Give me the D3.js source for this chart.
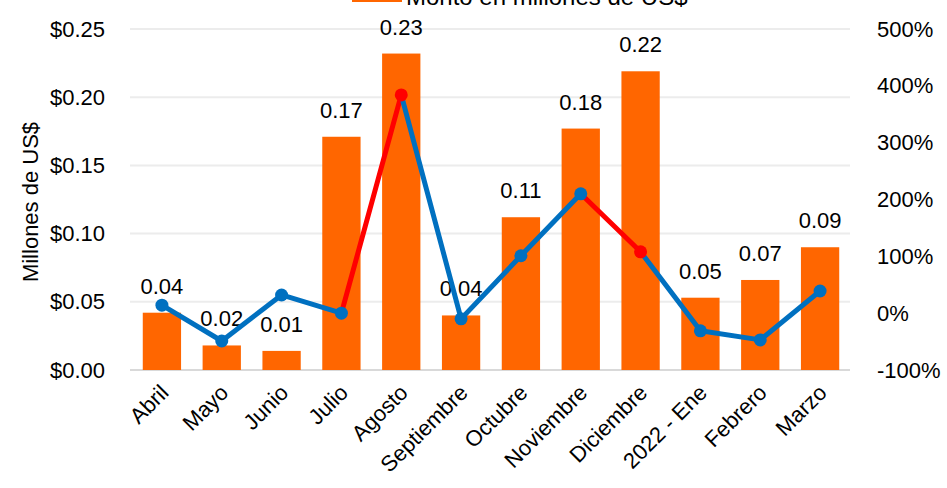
<!doctype html>
<html lang="es">
<head>
<meta charset="utf-8">
<title>Monto en millones de US$</title>
<script src="https://cdnjs.cloudflare.com/ajax/libs/d3/7.8.5/d3.min.js"></script>
<style>
  body { margin: 0; background: #fff; }
  svg { font-family: "Liberation Sans", Arial, sans-serif; display: block; }
</style>
</head>
<body>
<div id="chart"></div>
<script>
var meses = ["Abril", "Mayo", "Junio", "Julio", "Agosto", "Septiembre", "Octubre",
             "Noviembre", "Diciembre", "2022 - Ene", "Febrero", "Marzo"];
var monto = [0.042, 0.018, 0.014, 0.171, 0.232, 0.040, 0.112, 0.177, 0.219, 0.053, 0.066, 0.090];
var etiquetas = ["0.04", "0.02", "0.01", "0.17", "0.23", "0.04", "0.11", "0.18", "0.22", "0.05", "0.07", "0.09"];
var variacion = [14, -49, 32, 0, 384, -10, 101, 210, 108, -31, -47, 39];
// segmentos destacados en rojo (indice del punto final)
var rojos = [4, 8];
var ticksIzq = [0, 0.05, 0.10, 0.15, 0.20, 0.25];
var ticksDer = [-100, 0, 100, 200, 300, 400, 500];

var w = 947, h = 488;
var x0 = 132, x1 = 850, yTop = 29, yBot = 370;

var svg = d3.select("#chart").append("svg")
  .attr("width", w).attr("height", h);

var x = d3.scaleBand().domain(meses).range([x0, x1]).paddingInner(0.36).paddingOuter(0.18);
var y = d3.scaleLinear().domain([0, 0.25]).range([yBot, yTop]);
var y2 = d3.scaleLinear().domain([-100, 500]).range([yBot, yTop]);

// grid
svg.selectAll(".grid").data(ticksIzq).enter().append("line")
  .attr("x1", x0 - 2).attr("x2", x1)
  .attr("y1", function(d) { return y(d); }).attr("y2", function(d) { return y(d); })
  .attr("stroke", function(d) { return d == 0 ? "#d9d9d9" : "#ececec"; })
  .attr("stroke-width", 2);

// left axis
var ejeIzq = svg.append("g").attr("transform", "translate(" + (x0 - 2) + ",0)")
  .call(d3.axisLeft(y).tickValues(ticksIzq).tickSize(0).tickPadding(25)
    .tickFormat(function(d) { return "$" + d3.format(".2f")(d); }));
ejeIzq.select(".domain").remove();
ejeIzq.selectAll("text").attr("font-size", 22).attr("fill", "#000")
  .attr("font-family", "Liberation Sans, Arial, sans-serif");

// right axis
var ejeDer = svg.append("g").attr("transform", "translate(" + x1 + ",0)")
  .call(d3.axisRight(y2).tickValues(ticksDer).tickSize(0).tickPadding(27)
    .tickFormat(function(d) { return d + "%"; }));
ejeDer.select(".domain").remove();
ejeDer.selectAll("text").attr("font-size", 22).attr("fill", "#000")
  .attr("font-family", "Liberation Sans, Arial, sans-serif");

// y axis title
svg.append("text")
  .attr("transform", "translate(38,202) rotate(-90)")
  .attr("text-anchor", "middle")
  .attr("font-size", 22)
  .text("Millones de US$");

// bars
svg.selectAll(".barra").data(monto).enter().append("rect")
  .attr("x", function(d, i) { return x(meses[i]); })
  .attr("y", function(d) { return y(d); })
  .attr("width", x.bandwidth())
  .attr("height", function(d) { return y(0) - y(d); })
  .attr("fill", "#ff6600");

// bar labels
svg.selectAll(".etq").data(monto).enter().append("text")
  .attr("x", function(d, i) { return x(meses[i]) + x.bandwidth() / 2; })
  .attr("y", function(d) { return y(d) - 19; })
  .attr("text-anchor", "middle")
  .attr("font-size", 22)
  .text(function(d, i) { return etiquetas[i]; });

// line
var cx = function(i) { return x(meses[i]) + x.bandwidth() / 2; };
for (var i = 1; i < variacion.length; i++) {
  svg.append("line")
    .attr("x1", cx(i - 1)).attr("y1", y2(variacion[i - 1]))
    .attr("x2", cx(i)).attr("y2", y2(variacion[i]))
    .attr("stroke", rojos.indexOf(i) >= 0 ? "#ff0000" : "#0070c0")
    .attr("stroke-width", 5)
    .attr("stroke-linecap", "round");
}
svg.selectAll(".punto").data(variacion).enter().append("circle")
  .attr("cx", function(d, i) { return cx(i); })
  .attr("cy", function(d) { return y2(d); })
  .attr("r", 6.5)
  .attr("fill", function(d, i) { return rojos.indexOf(i) >= 0 ? "#ff0000" : "#0070c0"; });

// x labels
svg.selectAll(".mes").data(meses).enter().append("text")
  .attr("transform", function(d) {
    return "translate(" + (x(d) + x.bandwidth() / 2 + 8) + ",394) rotate(-45)";
  })
  .attr("text-anchor", "end")
  .attr("font-size", 22)
  .text(function(d) { return d; });

// leyenda (recortada arriba como en el original)
svg.append("rect").attr("x", 352).attr("y", -8).attr("width", 50).attr("height", 10)
  .attr("fill", "#ff6600");
svg.append("text").attr("x", 406).attr("y", 5)
  .attr("font-size", 24)
  .text("Monto en millones de US$");
</script>
</body>
</html>
